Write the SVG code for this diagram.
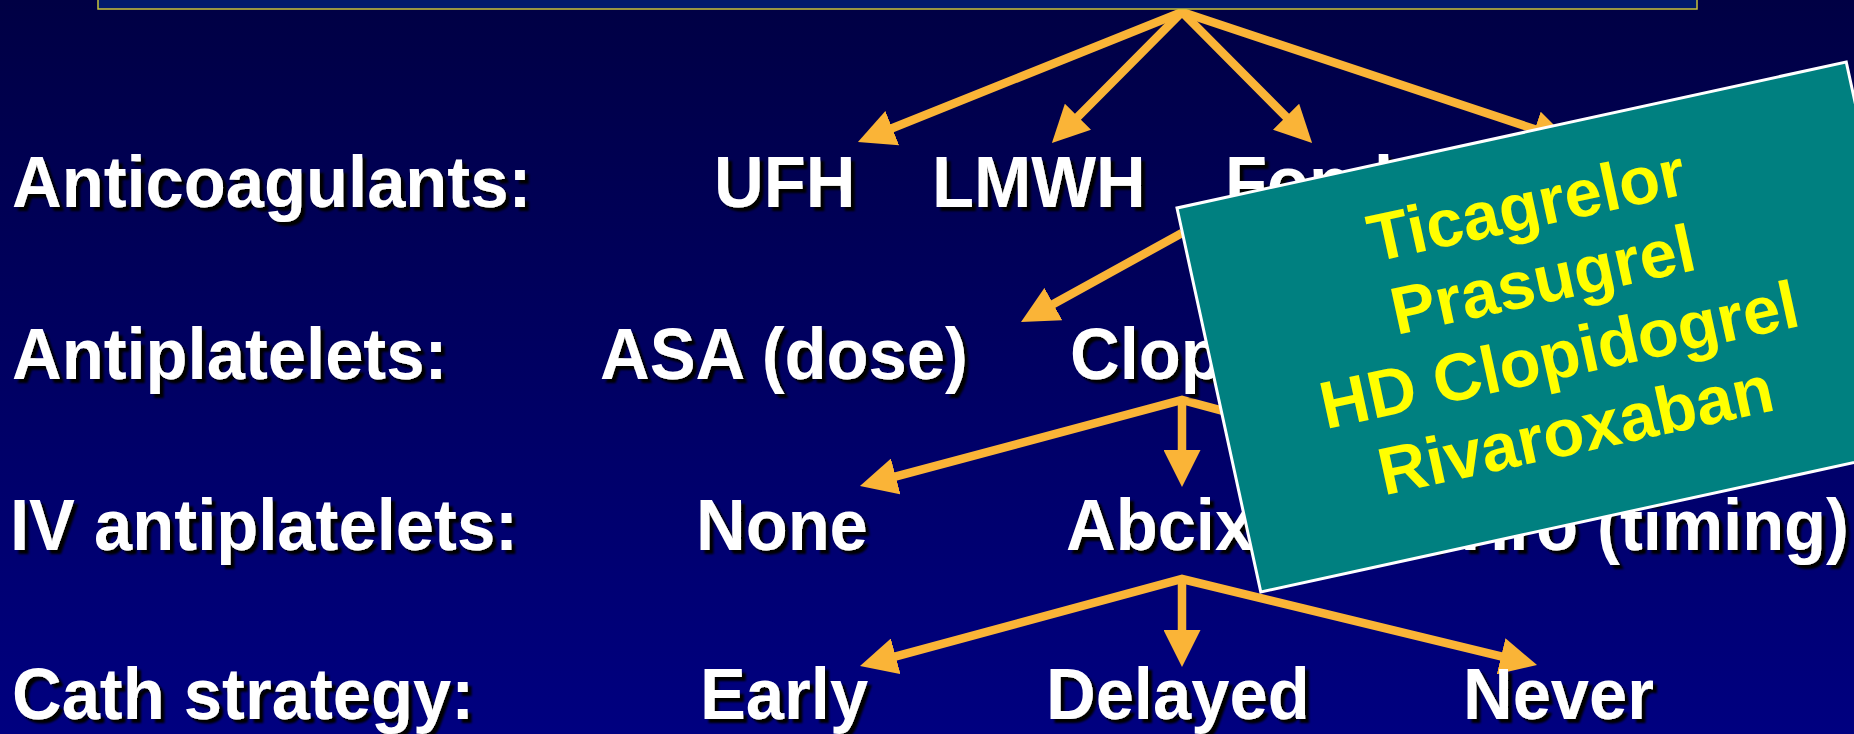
<svg xmlns="http://www.w3.org/2000/svg" width="1854" height="734" viewBox="0 0 1854 734">
  <defs>
    <linearGradient id="bg" x1="0" y1="0" x2="0" y2="1">
      <stop offset="0" stop-color="#000044"/>
      <stop offset="1" stop-color="#000080"/>
    </linearGradient>
    <filter id="sh" x="-10%" y="-30%" width="125%" height="170%">
      <feDropShadow dx="4" dy="4" stdDeviation="1" flood-color="#000" flood-opacity="1"/>
    </filter>
    <marker id="ah" viewBox="0 0 37 37" markerWidth="37" markerHeight="37" refX="17" refY="18.5" orient="auto-start-reverse" markerUnits="userSpaceOnUse">
      <path d="M0,0 L37,18.5 L0,37 Z" fill="#FAB437"/>
    </marker>
    <style>
      .t { font-family: "Liberation Sans", Arial, sans-serif; font-weight: bold; font-size: 72px; fill: #ffffff; }
      .node { filter: url(#sh); }
      .c { fill: none; stroke: #FAB437; stroke-width: 8.5; stroke-linejoin: miter; stroke-miterlimit: 10; }
      .y { font-family: "Liberation Sans", Arial, sans-serif; font-weight: bold; font-size: 67px; fill: #FFFF00; text-anchor: middle; }
    </style>
  </defs>

  <rect x="0" y="0" width="1854" height="734" fill="url(#bg)"/>

  <g id="connectors">
    <path class="c" d="M876.5,134.5 L1182,12 L1551,134.6" marker-start="url(#ah)" marker-end="url(#ah)"/>
    <path class="c" d="M1066,128.8 L1182,12 L1298,128.8" marker-start="url(#ah)" marker-end="url(#ah)"/>
    <path class="c" d="M1182,233 L1038.5,312.3" marker-end="url(#ah)"/>
    <path class="c" d="M879.3,480.8 L1182,400 L1484.7,480.8" marker-start="url(#ah)" marker-end="url(#ah)"/>
    <path class="c" d="M1182,400 L1182,467" marker-end="url(#ah)"/>
    <path class="c" d="M879.3,660.8 L1182,579 L1517.6,660.3" marker-start="url(#ah)" marker-end="url(#ah)"/>
    <path class="c" d="M1182,579 L1182,647" marker-end="url(#ah)"/>
  </g>

  <g id="title-box">
    <rect x="98" y="-6" width="1599" height="15" fill="#001a6c" stroke="#c8c23a" stroke-width="1.5"/>
  </g>

  <g id="label-anticoagulants" class="node"><text class="t" transform="translate(12,207) scale(0.955,1)">Anticoagulants:</text></g>
  <g id="label-antiplatelets" class="node"><text class="t" transform="translate(12,379) scale(0.955,1)">Antiplatelets:</text></g>
  <g id="label-iv" class="node"><text class="t" transform="translate(10,550) scale(0.955,1)">IV antiplatelets:</text></g>
  <g id="label-cath" class="node"><text class="t" transform="translate(12,719) scale(0.955,1)">Cath strategy:</text></g>

  <g id="ufh" class="node"><text class="t" transform="translate(714,207) scale(0.955,1)">UFH</text></g>
  <g id="lmwh" class="node"><text class="t" transform="translate(932,207) scale(0.955,1)">LMWH</text></g>
  <g id="fonda" class="node"><text class="t" transform="translate(1225,207) scale(0.955,1)">Fondaparinux</text></g>

  <g id="asa" class="node"><text class="t" transform="translate(600,379) scale(0.955,1)">ASA (dose)</text></g>
  <g id="clopidogrel" class="node"><text class="t" transform="translate(1070,379) scale(0.955,1)">Clopidogrel</text></g>

  <g id="none" class="node"><text class="t" transform="translate(696,550) scale(0.955,1)">None</text></g>
  <g id="abcix" class="node"><text class="t" transform="translate(1066,550) scale(0.955,1)">Abcix</text></g>
  <g id="eptif" class="node"><text class="t" text-anchor="end" transform="translate(1849,550) scale(0.955,1)">Eptif/Tiro (timing)</text></g>

  <g id="early" class="node"><text class="t" transform="translate(700,719) scale(0.955,1)">Early</text></g>
  <g id="delayed" class="node"><text class="t" transform="translate(1046,719) scale(0.955,1)">Delayed</text></g>
  <g id="never" class="node"><text class="t" transform="translate(1463,719) scale(0.955,1)">Never</text></g>

  <g id="new-agents" transform="translate(1177,208) rotate(-12.31)">
    <rect x="0" y="0" width="685" height="393" fill="#008080" stroke="#ffffff" stroke-width="3"/>
    <text class="y" x="342" y="95">Ticagrelor</text>
    <text class="y" x="342" y="171">Prasugrel</text>
    <text class="y" x="342" y="248">HD Clopidogrel</text>
    <text class="y" x="342" y="325">Rivaroxaban</text>
  </g>
</svg>
